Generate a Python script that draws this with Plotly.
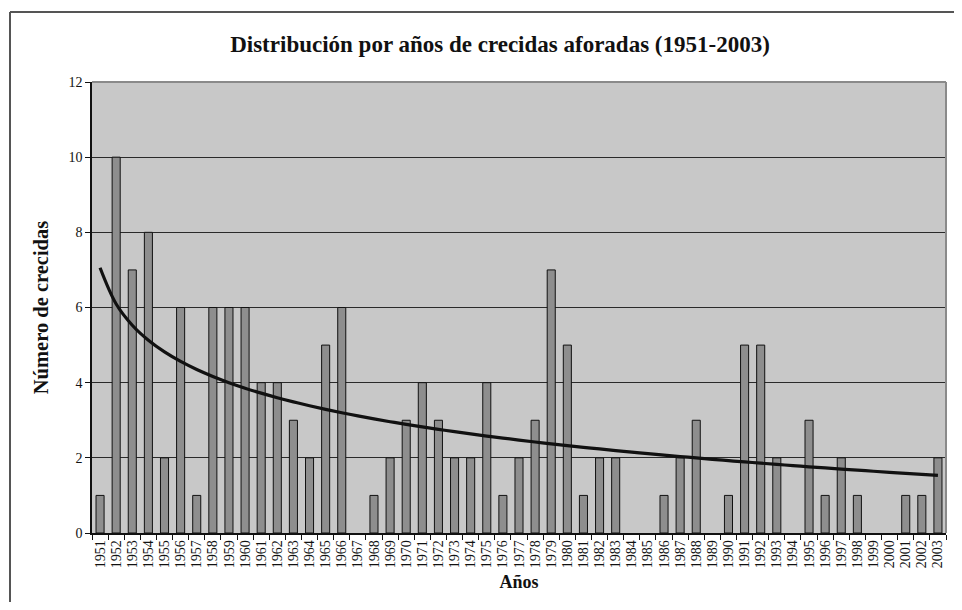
import numpy as np
import plotly.graph_objects as go

years = [str(y) for y in range(1951, 2004)]
crecidas = [1, 10, 7, 8, 2, 6, 1, 6, 6, 6, 4, 4, 3, 2, 5, 6, 0, 1, 2, 3,
            4, 3, 2, 2, 4, 1, 2, 3, 7, 5, 1, 2, 2, 0, 0, 1, 2, 3, 0, 1,
            5, 5, 2, 0, 3, 1, 2, 1, 0, 0, 1, 1, 2]
y_ticks = [0, 2, 4, 6, 8, 10, 12]

# Logarithmic trend line (least squares fit of y = a*ln(x) + b), as in the original chart
idx = np.arange(1, len(crecidas) + 1)
a, b = np.polyfit(np.log(idx), np.array(crecidas, dtype=float), 1)
trend = a * np.log(idx) + b

FONT = "Liberation Serif"

# no outline for empty (zero) bars
outline_w = [1 if v > 0 else 0 for v in crecidas]

fig = go.Figure()
fig.add_trace(go.Bar(
    x=years, y=crecidas,
    marker=dict(color="#8e8e8e", line=dict(color="#111111", width=outline_w)),
    showlegend=False, hoverinfo="x+y",
))
fig.add_trace(go.Scatter(
    x=years, y=trend, mode="lines",
    line=dict(color="#111111", width=3.2, shape="spline"),
    showlegend=False, hoverinfo="skip",
))

# page has an 8px body margin; figure coordinates = page coordinates - 8
W, H = 954, 594
L, R, T, B = 84, 938, 74, 525

fig.update_layout(
    width=W, height=H,
    margin=dict(l=L, r=W - R, t=T, b=H - B, autoexpand=False),
    paper_bgcolor="white",
    plot_bgcolor="#c8c8c8",
    bargap=0.5,
    font=dict(family=FONT, color="#111111", size=14),
    title=dict(
        text="<b>Distribución por años de crecidas aforadas (1951-2003)</b>",
        x=492 / W, xanchor="center", y=1 - 36 / H, yanchor="middle",
        font=dict(family=FONT, size=23, color="#111111"),
    ),
    xaxis=dict(
        type="category",
        tickmode="array", tickvals=years, ticktext=years,
        tickangle=-90,
        ticks="outside", ticklen=5, tickcolor="#111111", tickson="boundaries",
        showline=True, linecolor="#111111", linewidth=1.5,
        showgrid=False,
        tickfont=dict(family=FONT, size=14, color="#111111"),
        title=dict(text="<b>Años</b>", font=dict(family=FONT, size=18, color="#111111"), standoff=8),
    ),
    yaxis=dict(
        range=[0, 12],
        tickvals=y_ticks,
        ticks="outside", ticklen=5, tickcolor="#111111",
        showline=True, linecolor="#111111", linewidth=1.5,
        showgrid=True, gridcolor="#2a2a2a", gridwidth=1,
        zeroline=False,
        tickfont=dict(family=FONT, size=14, color="#111111"),
        title=dict(text="<b>Número de crecidas</b>", font=dict(family=FONT, size=20.5, color="#111111"), standoff=14),
    ),
    shapes=[
        # plot area border (top and right in grey)
        dict(type="line", xref="paper", yref="paper", x0=0, x1=1, y0=1, y1=1,
             line=dict(color="#8a8a8a", width=2)),
        dict(type="line", xref="paper", yref="paper", x0=1, x1=1, y0=0, y1=1,
             line=dict(color="#8a8a8a", width=2)),
        # outer chart frame (top and left edges visible)
        dict(type="line", xref="paper", yref="paper",
             x0=(2 - L) / (R - L), x1=(W + 10 - L) / (R - L),
             y0=(B - 4) / (B - T), y1=(B - 4) / (B - T),
             line=dict(color="#555555", width=2), layer="below"),
        dict(type="line", xref="paper", yref="paper",
             x0=(2 - L) / (R - L), x1=(2 - L) / (R - L),
             y0=(B - 4) / (B - T), y1=(B - H - 10) / (B - T),
             line=dict(color="#555555", width=2), layer="below"),
    ],
)

fig.write_html("out.html")
